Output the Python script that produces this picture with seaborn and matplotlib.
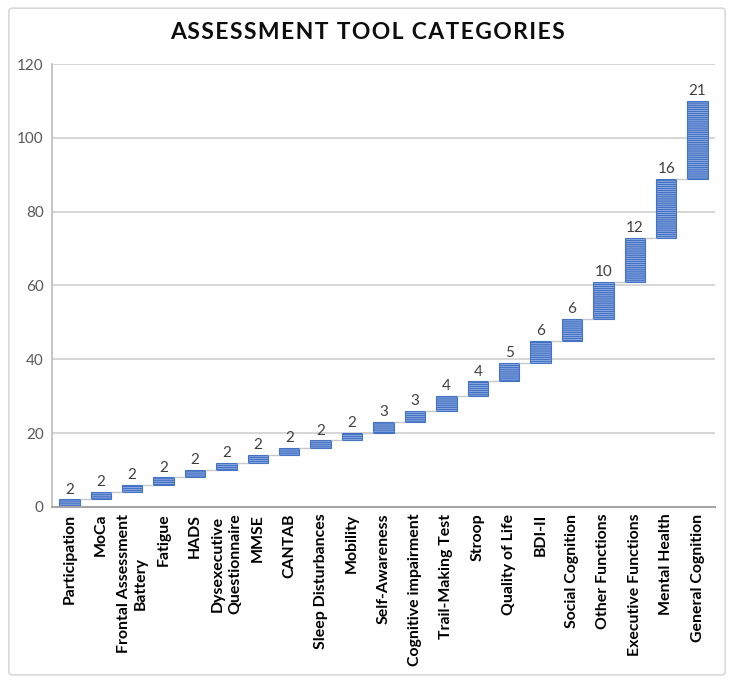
import numpy as np
import pandas as pd
import matplotlib
matplotlib.use("Agg")
import matplotlib.pyplot as plt
import seaborn as sns
from matplotlib.patches import FancyBboxPatch

# categories and counts
categories = ["Participation", "MoCa", "Frontal Assessment\nBattery", "Fatigue", "HADS",
              "Dysexecutive\nQuestionnaire", "MMSE", "CANTAB", "Sleep Disturbances", "Mobility",
              "Self-Awareness", "Cognitive impairment", "Trail-Making Test", "Stroop",
              "Quality of Life", "BDI-II", "Social Cognition", "Other Functions",
              "Executive Functions", "Mental Health", "General Cognition"]
counts = [2, 2, 2, 2, 2, 2, 2, 2, 2, 2, 3, 3, 4, 4, 5, 6, 6, 10, 12, 16, 21]
y_ticks = [0, 20, 40, 60, 80, 100, 120]
title = "ASSESSMENT TOOL CATEGORIES"

df = pd.DataFrame({"category": categories, "count": counts})
df["end"] = df["count"].cumsum()
df["start"] = df["end"] - df["count"]

sns.set_theme(style="white")
plt.rcParams["font.family"] = ["Lato", "DejaVu Sans"]
plt.rcParams["hatch.linewidth"] = 1.0

fig = plt.figure(figsize=(7.34, 6.83), dpi=100)
ax = fig.add_axes([0.071, 0.258, 0.903, 0.648])

# light grey frame around the whole chart
frame = FancyBboxPatch((0.012, 0.012), 0.976, 0.976, boxstyle="round,pad=0,rounding_size=0.005",
                       transform=fig.transFigure, facecolor="none", edgecolor="#d9d9d9", lw=1.2)
fig.patches.append(frame)

ax.set_axisbelow(True)
ax.yaxis.grid(True, color="#d0d0d0", lw=1.2)

sns.barplot(data=df, x="category", y="count", bottom=df["start"].values, ax=ax,
            color="#a4bdea", edgecolor="#4472c4", hatch="--------", linewidth=0.8,
            width=0.65, saturation=1)

# connector lines between floating bars
ax.hlines(df["end"].values[:-1], np.arange(len(df) - 1) + 0.325, np.arange(1, len(df)) - 0.325,
          color="#c8c8c8", lw=1)

ax.bar_label(ax.containers[0], labels=[str(c) for c in counts], padding=2,
             fontsize=11, color="#404040")

ax.set_ylim(0, 120)
ax.set_yticks(y_ticks)
ax.set_xlim(-0.55, len(df) - 0.45)
ax.set_xlabel("")
ax.set_ylabel("")
ax.tick_params(axis="y", labelsize=11, labelcolor="#595959", length=0, pad=6)
ax.tick_params(axis="x", length=0, pad=5)
ax.set_xticks(range(len(df)))
ax.set_xticklabels(categories, rotation=90, fontsize=11.4, fontweight="bold", color="black",
                   ha="center", va="top", linespacing=1.3)

for side in ["top", "right"]:
    ax.spines[side].set_visible(False)
ax.spines["left"].set_color("#bfbfbf")
ax.spines["bottom"].set_color("#a6a6a6")
ax.spines["bottom"].set_linewidth(1.5)

# letter-spaced title
fig.text(0.5, 0.952, "\u200a".join(title), ha="center", va="center",
         fontsize=16.5, fontweight="bold", color="#0d0d0d")

fig.savefig("out.png", dpi=100)
